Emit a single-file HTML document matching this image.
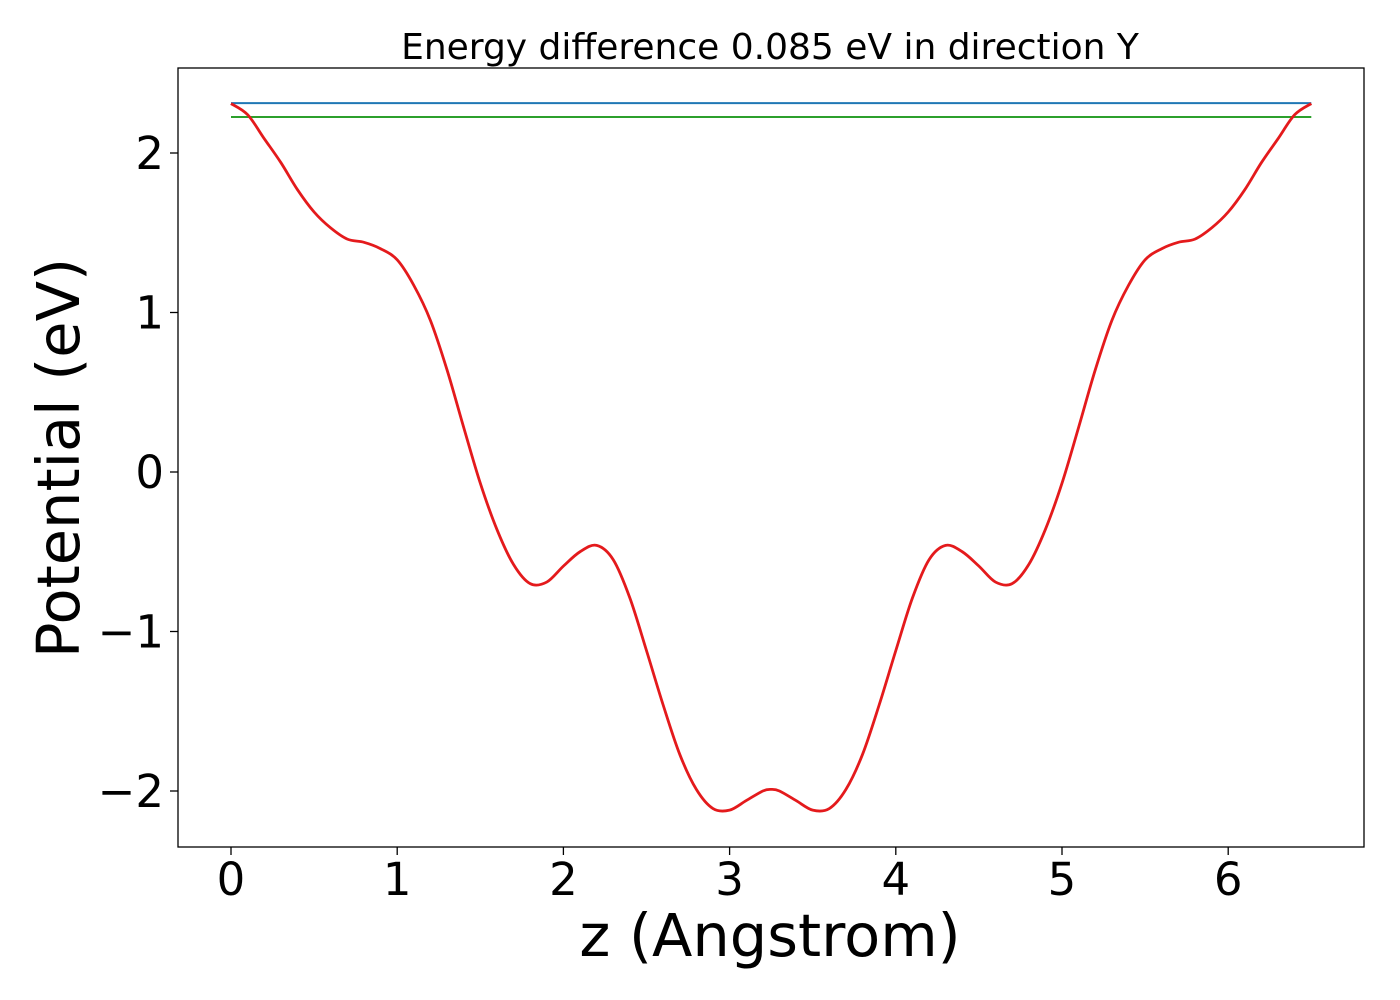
<!DOCTYPE html>
<html><head><meta charset="utf-8"><style>
html,body{margin:0;padding:0;background:#fff;}
svg{display:block;font-family:"DejaVu Sans","Liberation Sans",sans-serif;}
</style></head><body>
<svg id="chart" width="1400" height="1000" xmlns="http://www.w3.org/2000/svg">
<rect width="1400" height="1000" fill="#fff"/>
<text x="770" y="59" font-size="36" text-anchor="middle">Energy difference 0.085 eV in direction Y</text>
<g id="plot"></g>
<rect x="178" y="68" width="1186" height="779" fill="none" stroke="#000" stroke-width="1.3"/>
<text x="770" y="956" font-size="59" text-anchor="middle">z (Angstrom)</text>
<text transform="translate(79,458) rotate(-90)" font-size="59" text-anchor="middle">Potential (eV)</text>
</svg>
<script>
const zValues=[0,0.1,0.2,0.3,0.4,0.5,0.6,0.7,0.8,0.9,1.0,1.1,1.2,1.3,1.4,1.5,1.6,1.7,1.8,1.9,2.0,2.1,2.2,2.3,2.4,2.5,2.6,2.7,2.8,2.9,3.0,3.1,3.2,3.25,3.3,3.4,3.5,3.6,3.7,3.8,3.9,4.0,4.1,4.2,4.3,4.4,4.5,4.6,4.7,4.8,4.9,5.0,5.1,5.2,5.3,5.4,5.5,5.6,5.7,5.8,5.9,6.0,6.1,6.2,6.3,6.4,6.5];
const potential=[2.31,2.24,2.09,1.94,1.77,1.63,1.53,1.46,1.44,1.40,1.33,1.17,0.95,0.64,0.28,-0.07,-0.36,-0.58,-0.70,-0.69,-0.59,-0.50,-0.46,-0.55,-0.79,-1.12,-1.46,-1.77,-1.99,-2.11,-2.12,-2.06,-2.00,-1.99,-2.00,-2.06,-2.12,-2.11,-1.99,-1.77,-1.46,-1.12,-0.79,-0.55,-0.46,-0.50,-0.59,-0.69,-0.70,-0.58,-0.36,-0.07,0.28,0.64,0.95,1.17,1.33,1.40,1.44,1.46,1.53,1.63,1.77,1.94,2.09,2.24,2.31];
const refLevels=[2.313,2.226];
const refColors=["#1f77b4","#2ca02c"];
const xTicks=[0,1,2,3,4,5,6];
const yTicks=[-2,-1,0,1,2];
const yTickLabels=["\u22122","\u22121","0","1","2"];
const X=v=>231+166.2*v;
const Y=v=>472-159.5*v;
const NS="http://www.w3.org/2000/svg";
const g=document.getElementById('plot');
function mk(tag,attrs){const e=document.createElementNS(NS,tag);for(const k in attrs)e.setAttribute(k,attrs[k]);return e;}
xTicks.forEach(t=>{
 const l=mk('line',{x1:X(t),x2:X(t),y1:847,y2:855,stroke:'#000','stroke-width':1.3});
 
 
 g.appendChild(l);
 const tx=mk('text',{x:X(t),y:895,'font-size':45,'text-anchor':'middle'});
 
 
 tx.textContent=String(t);g.appendChild(tx);
});
yTicks.forEach((t,i)=>{
 const l=mk('line',{x1:170,x2:178,y1:Y(t),y2:Y(t),stroke:'#000','stroke-width':1.3});
 
 
 g.appendChild(l);
 const tx=mk('text',{x:164,y:Y(t)+16,'font-size':45,'text-anchor':'end'});
 
 
 tx.textContent=yTickLabels[i];g.appendChild(tx);
});
refLevels.forEach((v,i)=>{
 const l=mk('line',{x1:X(zValues[0]),x2:X(zValues[zValues.length-1]),y1:Y(v),y2:Y(v),stroke:refColors[i],'stroke-width':2});
 
 
 g.appendChild(l);
});
const pts=zValues.map((z,i)=>[X(z),Y(potential[i])]);
let d='M'+pts[0][0]+','+pts[0][1];
for(let i=0;i<pts.length-1;i++){
 const p0=pts[i-1]||pts[i],p1=pts[i],p2=pts[i+1],p3=pts[i+2]||p2;
 const c1=[p1[0]+(p2[0]-p0[0])/6,p1[1]+(p2[1]-p0[1])/6];
 const c2=[p2[0]-(p3[0]-p1[0])/6,p2[1]-(p3[1]-p1[1])/6];
 d+=` C${c1[0]},${c1[1]} ${c2[0]},${c2[1]} ${p2[0]},${p2[1]}`;
}
const path=mk('path',{d:d,fill:'none',stroke:'#e41a1c','stroke-width':2.8});


g.appendChild(path);
</script>
</body></html>
